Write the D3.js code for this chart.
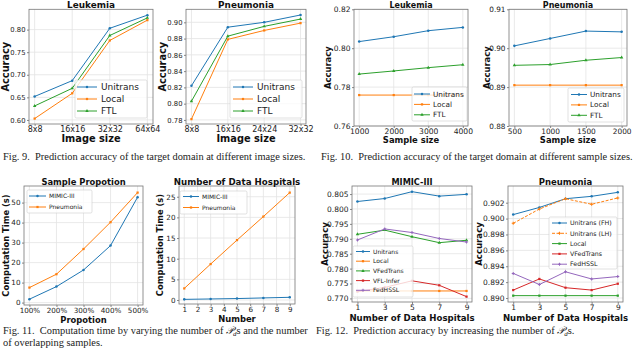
<!DOCTYPE html>
<html>
<head>
<meta charset="utf-8">
<script src="https://cdn.jsdelivr.net/npm/d3@7"></script>
<style>
body { margin: 0; background: #fff; }
svg { display: block; }
text { font-family: "DejaVu Sans", sans-serif; }
</style>
</head>
<body>
<div id="fig"></div>
<script>
// ---- data ----
var imgCatsLeuk = ["8x8", "16x16", "32x32", "64x64"];
var imgCatsPneu = ["8x8", "16x16", "24x24", "32x32"];
var imgLeukUnitrans = [0.652, 0.687, 0.803, 0.832];
var imgLeukLocal = [0.603, 0.659, 0.776, 0.821];
var imgLeukFTL = [0.631, 0.670, 0.787, 0.826];
var imgPneuUnitrans = [0.822, 0.894, 0.900, 0.909];
var imgPneuLocal = [0.781, 0.879, 0.890, 0.899];
var imgPneuFTL = [0.803, 0.883, 0.895, 0.904];

var sizeLeuk = [1000, 2000, 3000, 4000];
var sizeLeukUnitrans = [0.8034, 0.8059, 0.8090, 0.8107];
var sizeLeukLocal = [0.7759, 0.7759, 0.7759, 0.7759];
var sizeLeukFTL = [0.7867, 0.7883, 0.7900, 0.7915];
var sizePneu = [500, 1000, 1500, 2000];
var sizePneuUnitrans = [0.9006, 0.9025, 0.9044, 0.9042];
var sizePneuLocal = [0.8905, 0.8905, 0.8905, 0.8905];
var sizePneuFTL = [0.8956, 0.8958, 0.8969, 0.8976];

var propCats = ["100%", "200%", "300%", "400%", "500%"];
var propMimic = [1.7, 8.0, 16.3, 28.5, 52.7];
var propPneu = [7.5, 14.2, 26.8, 40.2, 55.0];
var hospNum = [1, 3, 5, 7, 9];
var hospTicks = [1, 2, 3, 4, 5, 6, 7, 8, 9];
var timeMimic = [0.15, 0.25, 0.35, 0.5, 0.65];
var timePneu = [2.8, 8.7, 14.5, 20.2, 26.0];

var mimicUnitrans = [0.8025, 0.8035, 0.8058, 0.8043, 0.8049];
var mimicLocal = [0.7725, 0.7725, 0.7725, 0.7725, 0.7725];
var mimicVFedTrans = [0.7915, 0.7929, 0.7907, 0.7887, 0.7895];
var mimicVFLInfer = [0.7723, 0.7737, 0.7759, 0.7744, 0.7706];
var mimicFedHSSL = [0.7896, 0.7933, 0.7921, 0.7901, 0.7889];

var pneuUnitransFH = [0.9005, 0.9014, 0.9025, 0.9028, 0.9033];
var pneuUnitransLH = [0.8994, 0.9012, 0.9025, 0.9018, 0.9026];
var pneuLocal = [0.8903, 0.8903, 0.8903, 0.8903, 0.8903];
var pneuVFedTrans = [0.8910, 0.8924, 0.8913, 0.8910, 0.8918];
var pneuFedHSSL = [0.8931, 0.8917, 0.8933, 0.8924, 0.8927];

var C = { blue: "#1f77b4", orange: "#ff7f0e", green: "#2ca02c", red: "#d62728", purple: "#9467bd" };

var svg = d3.select("#fig").append("svg").attr("width", 640).attr("height", 353);

function drawPanel(o) {
	var g = svg.append("g");
	var x;
	if (o.cats) {
		x = d3.scalePoint().domain(o.cats).range([o.l, o.r]).padding(o.pad);
	} else {
		x = d3.scaleLinear().domain(o.xDom).range([o.l, o.r]);
	}
	var y = d3.scaleLinear().domain(o.yDom).range([o.b, o.t]);
	var xt = o.cats ? o.cats : o.xTicks;

	// grid
	g.selectAll(".gy").data(o.yTicks).enter().append("line")
		.attr("x1", o.l).attr("x2", o.r)
		.attr("y1", function(d) { return y(d); }).attr("y2", function(d) { return y(d); })
		.attr("stroke", "#e3e3e3").attr("stroke-width", 0.8);
	g.selectAll(".gx").data(xt).enter().append("line")
		.attr("y1", o.t).attr("y2", o.b)
		.attr("x1", function(d) { return x(d); }).attr("x2", function(d) { return x(d); })
		.attr("stroke", "#e3e3e3").attr("stroke-width", 0.8);

	// axes
	var ax = g.append("g").attr("transform", "translate(0," + o.b + ")")
		.call(d3.axisBottom(x).tickValues(xt).tickFormat(o.cats ? null : d3.format("d")).tickSize(2).tickPadding(0.8));
	var ay = g.append("g").attr("transform", "translate(" + o.l + ",0)")
		.call(d3.axisLeft(y).tickValues(o.yTicks).tickFormat(d3.format(o.yFmt)).tickSize(2).tickPadding(1.5));
	[ax, ay].forEach(function(a, k) {
		a.select(".domain").remove();
		a.selectAll("line").attr("stroke", "#555").attr("stroke-width", 0.7);
		a.selectAll("text").attr("font-size", k === 0 ? (o.xtfs || 7.5) : (o.ytfs || 7.5)).attr("fill", "#222")
			.style("font-family", "'DejaVu Sans', sans-serif");
	});

	g.append("rect").attr("x", o.l).attr("y", o.t)
		.attr("width", o.r - o.l).attr("height", o.b - o.t)
		.attr("fill", "none").attr("stroke", "#777").attr("stroke-width", 0.8);

	// series
	o.series.forEach(function(s) {
		var pts = s.v.map(function(v, i) { return [x(o.xs[i]), y(v)]; });
		g.append("path").attr("d", d3.line()(pts))
			.attr("fill", "none").attr("stroke", s.c).attr("stroke-width", 1)
			.attr("stroke-dasharray", s.dash ? "3,1.5" : null);
		g.selectAll(null).data(pts).enter().append("path")
			.attr("transform", function(p) { return "translate(" + p[0] + "," + p[1] + ")"; })
			.attr("d", d3.symbol().type(s.sym || d3.symbolCircle).size(5)())
			.attr("fill", s.c);
	});

	// legend
	var L = o.leg;
	g.append("rect").attr("x", L.x).attr("y", L.y).attr("width", L.w).attr("height", L.h)
		.attr("rx", 1.5).attr("fill", "#fff").attr("fill-opacity", 0.8)
		.attr("stroke", "#ccc").attr("stroke-width", 0.6);
	o.series.forEach(function(s, i) {
		var yy = L.y0 + i * L.dy;
		g.append("line").attr("x1", L.lx).attr("x2", L.lx + L.ll).attr("y1", yy).attr("y2", yy)
			.attr("stroke", s.c).attr("stroke-width", 1)
			.attr("stroke-dasharray", s.dash ? "3,1.5" : null);
		g.append("path").attr("transform", "translate(" + (L.lx + L.ll / 2) + "," + yy + ")")
			.attr("d", d3.symbol().type(s.sym || d3.symbolCircle).size(5)()).attr("fill", s.c);
		g.append("text").attr("x", L.lx + L.ll + L.gap).attr("y", yy).attr("dy", "0.35em")
			.attr("font-size", L.fs).attr("fill", "#222").text(s.name);
	});

	// labels
	g.append("text").attr("x", (o.l + o.r) / 2).attr("y", o.t - 1.5)
		.attr("text-anchor", "middle").attr("font-size", o.tfs || 8.5).attr("font-weight", "bold")
		.attr("fill", "#111").text(o.title);
	g.append("text").attr("x", (o.l + o.r) / 2).attr("y", o.xly)
		.attr("text-anchor", "middle").attr("font-size", o.lfs || 8.5).attr("font-weight", "bold")
		.attr("fill", "#111").text(o.xlabel);
	g.append("text").attr("transform", "translate(" + o.ylx + "," + ((o.t + o.b) / 2) + ") rotate(-90)")
		.attr("text-anchor", "middle").attr("dy", "0.35em").attr("font-size", o.lfs || 8.5).attr("font-weight", "bold")
		.attr("fill", "#111").text(o.ylabel);
}

var tri = d3.symbolTriangle;

// Fig. 9
drawPanel({ l: 29, r: 153, t: 9.3, b: 124, cats: imgCatsLeuk, pad: 0.15, xs: imgCatsLeuk,
	yDom: [0.591, 0.845], yTicks: [0.60, 0.65, 0.70, 0.75, 0.80], yFmt: ".2f",
	xtfs: 8, ytfs: 6.8, tfs: 8.9, lfs: 9.8,
	title: "Leukemia", xlabel: "Image size", xly: 142, ylabel: "Accuracy", ylx: 6,
	series: [{ name: "Unitrans", v: imgLeukUnitrans, c: C.blue },
		{ name: "Local", v: imgLeukLocal, c: C.orange, sym: d3.symbolSquare },
		{ name: "FTL", v: imgLeukFTL, c: C.green, sym: tri }],
	leg: { x: 75, y: 80, w: 72, h: 38, y0: 87, dy: 12, lx: 77, ll: 20, gap: 4, fs: 9 } });

drawPanel({ l: 186, r: 306, t: 9.3, b: 124, cats: imgCatsPneu, pad: 0.15, xs: imgCatsPneu,
	yDom: [0.775, 0.916], yTicks: [0.78, 0.80, 0.82, 0.84, 0.86, 0.88, 0.90], yFmt: ".2f",
	xtfs: 8, ytfs: 6.8, tfs: 8.9, lfs: 9.8,
	title: "Pneumonia", xlabel: "Image size", xly: 142, ylabel: "Accuracy", ylx: 163,
	series: [{ name: "Unitrans", v: imgPneuUnitrans, c: C.blue },
		{ name: "Local", v: imgPneuLocal, c: C.orange, sym: d3.symbolSquare },
		{ name: "FTL", v: imgPneuFTL, c: C.green, sym: tri }],
	leg: { x: 230, y: 80, w: 72, h: 38, y0: 87, dy: 12, lx: 233, ll: 20, gap: 4, fs: 9 } });

// Fig. 10
drawPanel({ l: 354, r: 468, t: 9.3, b: 126, xDom: [850, 4150], xTicks: sizeLeuk, xs: sizeLeuk,
	yDom: [0.76, 0.82], yTicks: [0.76, 0.78, 0.80, 0.82], yFmt: ".2f",
	xtfs: 7.6, ytfs: 7.5, tfs: 8, lfs: 8.4,
	title: "Leukemia", xlabel: "Sample size", xly: 143, ylabel: "Accuracy", ylx: 328,
	series: [{ name: "Unitrans", v: sizeLeukUnitrans, c: C.blue },
		{ name: "Local", v: sizeLeukLocal, c: C.orange, sym: d3.symbolSquare },
		{ name: "FTL", v: sizeLeukFTL, c: C.green, sym: tri }],
	leg: { x: 412, y: 87, w: 55, h: 34, y0: 94, dy: 10.4, lx: 414, ll: 16, gap: 3, fs: 7.3 } });

drawPanel({ l: 509, r: 627, t: 9.3, b: 126, xDom: [425, 2075], xTicks: sizePneu, xs: sizePneu,
	yDom: [0.88, 0.91], yTicks: [0.88, 0.89, 0.90, 0.91], yFmt: ".2f",
	xtfs: 7.4, ytfs: 7.3, tfs: 8, lfs: 8.4,
	title: "Pneumonia", xlabel: "Sample size", xly: 143, ylabel: "Accuracy", ylx: 487,
	series: [{ name: "Unitrans", v: sizePneuUnitrans, c: C.blue },
		{ name: "Local", v: sizePneuLocal, c: C.orange, sym: d3.symbolSquare },
		{ name: "FTL", v: sizePneuFTL, c: C.green, sym: tri }],
	leg: { x: 568, y: 88, w: 56, h: 34, y0: 94.5, dy: 10.4, lx: 571, ll: 16, gap: 3, fs: 7.3 } });

// Fig. 11
drawPanel({ l: 24, r: 143, t: 186, b: 305, cats: propCats, pad: 0.2, xs: propCats,
	yDom: [-1.2, 58.3], yTicks: [0, 10, 20, 30, 40, 50], yFmt: "d",
	xtfs: 7.2, ytfs: 7.2, tfs: 8.4, lfs: 8.4,
	title: "Sample Propotion", xlabel: "Propotion", xly: 323, ylabel: "Computation Time (s)", ylx: 6,
	series: [{ name: "MIMIC-III", v: propMimic, c: C.blue },
		{ name: "Pneumonia", v: propPneu, c: C.orange, sym: d3.symbolSquare }],
	leg: { x: 27, y: 190, w: 65, h: 23, y0: 196, dy: 11, lx: 29, ll: 17, gap: 3, fs: 6 } });

drawPanel({ l: 179, r: 295, t: 186, b: 304, xDom: [0.6, 9.4], xTicks: hospTicks, xs: hospNum,
	yDom: [-0.97, 27.6], yTicks: [0, 5, 10, 15, 20, 25], yFmt: "d",
	xtfs: 7.2, ytfs: 7.2, tfs: 8.7, lfs: 8.4,
	title: "Number of Data Hospitals", xlabel: "Number", xly: 322, ylabel: "Computation Time (s)", ylx: 160,
	series: [{ name: "MIMIC-III", v: timeMimic, c: C.blue },
		{ name: "Pneumonia", v: timePneu, c: C.orange, sym: d3.symbolSquare }],
	leg: { x: 180, y: 191, w: 67, h: 23, y0: 196.5, dy: 11, lx: 183, ll: 16, gap: 3, fs: 6 } });

// Fig. 12
drawPanel({ l: 352, r: 472, t: 186, b: 302, xDom: [0.6, 9.4], xTicks: hospNum, xs: hospNum,
	yDom: [0.7688, 0.8077], yTicks: [0.770, 0.775, 0.780, 0.785, 0.790, 0.795, 0.800, 0.805], yFmt: ".3f",
	xtfs: 7.5, ytfs: 7.5, tfs: 8.2, lfs: 8.6,
	title: "MIMIC-III", xlabel: "Number of Data Hospitals", xly: 320.5, ylabel: "Accuracy", ylx: 325,
	series: [{ name: "Unitrans", v: mimicUnitrans, c: C.blue },
		{ name: "Local", v: mimicLocal, c: C.orange, sym: d3.symbolSquare },
		{ name: "VFedTrans", v: mimicVFedTrans, c: C.green, sym: tri },
		{ name: "VFL-Infer", v: mimicVFLInfer, c: C.red, sym: d3.symbolSquare },
		{ name: "FedHSSL", v: mimicFedHSSL, c: C.purple, sym: d3.symbolCross }],
	leg: { x: 353, y: 246, w: 60, h: 51, y0: 251.5, dy: 9.7, lx: 356, ll: 14, gap: 3, fs: 6 } });

drawPanel({ l: 508, r: 623, t: 186, b: 302, xDom: [0.6, 9.4], xTicks: hospNum, xs: hospNum,
	yDom: [0.8895, 0.9041], yTicks: [0.890, 0.892, 0.894, 0.896, 0.898, 0.900, 0.902], yFmt: ".3f",
	xtfs: 7.5, ytfs: 7.5, tfs: 8.5, lfs: 8.6,
	title: "Pneumonia", xlabel: "Number of Data Hospitals", xly: 320.5, ylabel: "Accuracy", ylx: 479,
	series: [{ name: "Unitrans (FH)", v: pneuUnitransFH, c: C.blue },
		{ name: "Unitrans (LH)", v: pneuUnitransLH, c: C.orange, dash: true, sym: d3.symbolCross },
		{ name: "Local", v: pneuLocal, c: C.green, sym: d3.symbolSquare },
		{ name: "VFedTrans", v: pneuVFedTrans, c: C.red, sym: d3.symbolSquare },
		{ name: "FedHSSL", v: pneuFedHSSL, c: C.purple, sym: d3.symbolCross }],
	leg: { x: 549, y: 217, w: 68, h: 52, y0: 223, dy: 10.3, lx: 552, ll: 15, gap: 3, fs: 6.3 } });

// captions
function caption(x, y, parts) {
	var t = svg.append("text").attr("x", x).attr("y", y).attr("font-size", 10.4).attr("fill", "#222")
		.style("font-family", "'Liberation Serif', 'Times New Roman', serif").style("white-space", "pre");
	parts.forEach(function(p) {
		var ts = t.append("tspan").text(p.s);
		if (p.sub) ts.attr("font-size", 7).attr("dy", 2);
		if (p.up) ts.attr("dy", -2);
		if (p.it) ts.attr("font-style", "italic");
	});
}
caption(3, 160, [{ s: "Fig. 9.  Prediction accuracy of the target domain at different image sizes." }]);
caption(321, 160, [{ s: "Fig. 10.  Prediction accuracy of the target domain at different sample sizes." }]);
caption(3, 334, [{ s: "Fig. 11.  Computation time by varying the number of " }, { s: "𝒫", it: true }, { s: "d", sub: true, it: true }, { s: "s and the number", up: true }]);
caption(3, 346, [{ s: "of overlapping samples." }]);
caption(316, 334, [{ s: "Fig. 12.  Prediction accuracy by increasing the number of " }, { s: "𝒫", it: true }, { s: "d", sub: true, it: true }, { s: "s.", up: true }]);
</script>
</body>
</html>
